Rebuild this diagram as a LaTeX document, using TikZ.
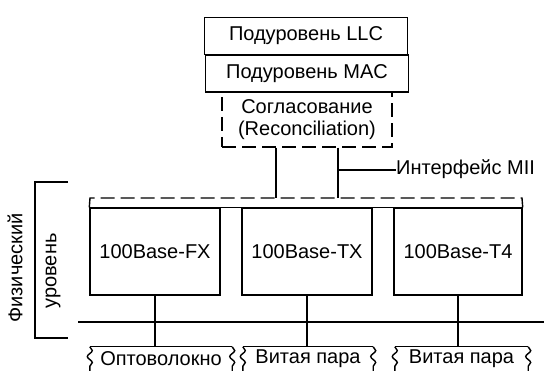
\documentclass[tikz,border=0pt]{standalone}
\usepackage{fontspec}
\setmainfont{Liberation Sans}
\usetikzlibrary{positioning,decorations.pathmorphing}
\tikzset{
  lay/.style={draw, line width=1.4pt, align=center, inner sep=2pt},
  sub/.style={lay, minimum width=203pt, minimum height=37pt},
  phy/.style={lay, minimum height=87pt},
  cable/.style={inner sep=0pt, minimum height=24pt},
  wire/.style={line width=1.4pt},
  miiline/.style={wire, dash pattern=on 14pt off 6pt},
  brk/.style={wire, decorate, decoration={snake, amplitude=2.5pt, segment length=12pt}},
}

\begin{document}
\begin{tikzpicture}[x=1pt, y=-1pt, font=\fontsize{20}{22}\selectfont]
    \useasboundingbox (0,0) rectangle (544,371);

    % sublayers
    \node[sub] (llc) at (306,36) {Подуровень LLC};
    \node[sub] (mac) at (307,73.5) {Подуровень MAC};
    \node[lay, dash pattern=on 14pt off 6pt, minimum width=170pt, minimum height=55pt]
      (rec) at (307,119.5) {Согласование\\(Reconciliation)};

    % physical layer
    \node[phy, minimum width=130pt] (fx) at (155,251.5) {100Base-FX};
    \node[phy, minimum width=130pt] (tx) at (307,251.5) {100Base-TX};
    \node[phy, minimum width=128pt] (t4) at (458,251.5) {100Base-T4};
    \draw[wire] (fx.north west) -- (t4.north east);

    \coordinate (miiL) at (90,198);
    \coordinate (miiR) at (522,198);
    \draw[miiline] (fx.north west) -- (miiL) -- (miiR) -- (t4.north east);

    \coordinate (miiA) at (276,198);
    \coordinate (miiB) at (338,198);
    \coordinate (tap) at (338,170);
    \draw[wire] (miiA |- rec.south) -- (miiA);
    \draw[wire] (miiB |- rec.south) -- (miiB);
    \node[anchor=west, inner sep=0pt] (miitxt) at (396,169) {Интерфейс MII};
    \draw[wire] (tap) -- (miitxt.west |- tap);

    % bracket
    \coordinate (brT) at (68,182);
    \coordinate (brB) at (68,338);
    \draw[wire] (brT) -- (35,182) -- (35,338) -- (brB);
    \node[rotate=90] (phys) at (15,268) {Физический};
    \node[rotate=90] (lvl) at (53,271) {уровень};

    % medium
    \coordinate (busL) at (78,322);
    \coordinate (busR) at (544,322);
    \draw[wire] (busL) -- (busR);

    \node[cable, minimum width=142pt] (fib) at (161,359) {Оптоволокно};
    \node[cable, minimum width=130pt] (tp1) at (308,359) {Витая пара};
    \node[cable, minimum width=133pt] (tp2) at (461.5,359) {Витая пара};
    \foreach \c in {fib,tp1,tp2} {
      \draw[wire] (\c.north west) -- (\c.north east);
      \draw[brk] (\c.north west) -- (\c.south west);
      \draw[brk] (\c.north east) -- (\c.south east);
    }

    \draw[wire] (fx.south) -- (fx.south |- fib.north);
    \draw[wire] (tx.south) -- (tx.south |- tp1.north);
    \draw[wire] (t4.south) -- (t4.south |- tp2.north);
\end{tikzpicture}
\end{document}
